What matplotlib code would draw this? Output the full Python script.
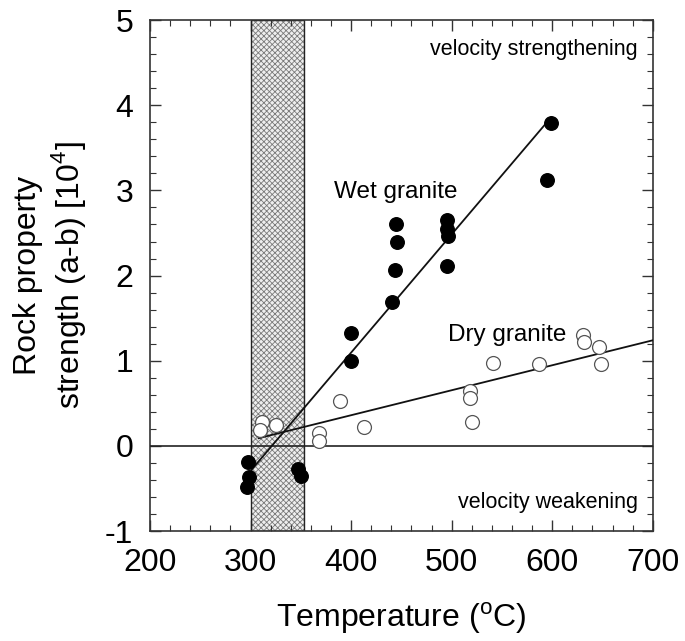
# Rock property strength (a-b) vs temperature, wet and dry granite
import matplotlib
matplotlib.use('Agg')
import matplotlib.pyplot as plt
from matplotlib.ticker import MultipleLocator

plt.rcParams['font.family'] = ['Liberation Sans', 'DejaVu Sans']
plt.rcParams['mathtext.fontset'] = 'custom'
plt.rcParams['mathtext.rm'] = 'Liberation Sans'
plt.rcParams['axes.unicode_minus'] = False
plt.rcParams['hatch.linewidth'] = 0.6

# wet granite (filled)
wet_t = [297, 298, 296, 347, 350, 400, 400, 441, 444, 446, 445, 495, 496, 495, 495, 595, 599]
wet_ab = [-0.19, -0.37, -0.48, -0.27, -0.35, 1.33, 1.0, 1.69, 2.06, 2.40, 2.61, 2.11, 2.47, 2.55, 2.65, 3.12, 3.79]
wet_fit_t = [301, 599]
wet_fit_ab = [-0.28, 3.86]

# dry granite (open)
dry_t = [311, 309, 325, 368, 368, 389, 413, 518, 518, 520, 541, 587, 631, 632, 646, 648]
dry_ab = [0.28, 0.19, 0.24, 0.15, 0.06, 0.53, 0.22, 0.64, 0.56, 0.28, 0.97, 0.96, 1.30, 1.22, 1.16, 0.96]
dry_fit_t = [308, 700]
dry_fit_ab = [0.09, 1.24]

# brittle-ductile transition band
band_t = [300, 353]

fig = plt.figure(figsize=(6.85, 6.41), dpi=100)
ax = fig.add_axes([0.219, 0.1716, 0.734, 0.797])

ax.axvspan(band_t[0], band_t[1], facecolor='#eeeeee', edgecolor='#7a7a7a',
           hatch='xxxxxx', linewidth=0, zorder=1)
ax.axvspan(band_t[0], band_t[1], facecolor='none', edgecolor='#222222',
           linewidth=1.0, zorder=2)

ax.axhline(0, color='#222222', lw=1.2, zorder=3)

ax.plot(wet_fit_t, wet_fit_ab, color='#111111', lw=1.3, zorder=4)
ax.plot(dry_fit_t, dry_fit_ab, color='#111111', lw=1.3, zorder=4)

ax.scatter(dry_t, dry_ab, s=100, facecolor='white', edgecolor='#555555',
           linewidths=0.9, zorder=5)
ax.scatter(wet_t, wet_ab, s=95, color='black', zorder=6)

ax.text(383, 2.98, 'Wet granite', fontsize=17.5, va='center', ha='left')
ax.text(496, 1.30, 'Dry granite', fontsize=17.5, va='center', ha='left')
ax.text(685, 4.65, 'velocity strengthening', fontsize=15.5, va='center', ha='right')
ax.text(685, -0.67, 'velocity weakening', fontsize=15.5, va='center', ha='right')

ax.set_xlim(200, 700)
ax.set_ylim(-1, 5)
ax.xaxis.set_major_locator(MultipleLocator(100))
ax.xaxis.set_minor_locator(MultipleLocator(20))
ax.yaxis.set_major_locator(MultipleLocator(1))
ax.yaxis.set_minor_locator(MultipleLocator(0.2))
ax.tick_params(which='both', direction='in', top=True, right=True,
               labelsize=23, pad=12, color='#333333')
ax.tick_params(which='major', length=8, width=1)
ax.tick_params(which='minor', length=4, width=0.8)
for s in ax.spines.values():
    s.set_linewidth(1.2)
    s.set_color('#333333')

ax.set_xlabel('Temperature ($^{\\rm o}$C)', fontsize=23, labelpad=16)
ax.set_ylabel('Rock property\nstrength (a-b) [10$^{4}$]', fontsize=23, labelpad=12)

fig.savefig('out.png', dpi=100)
